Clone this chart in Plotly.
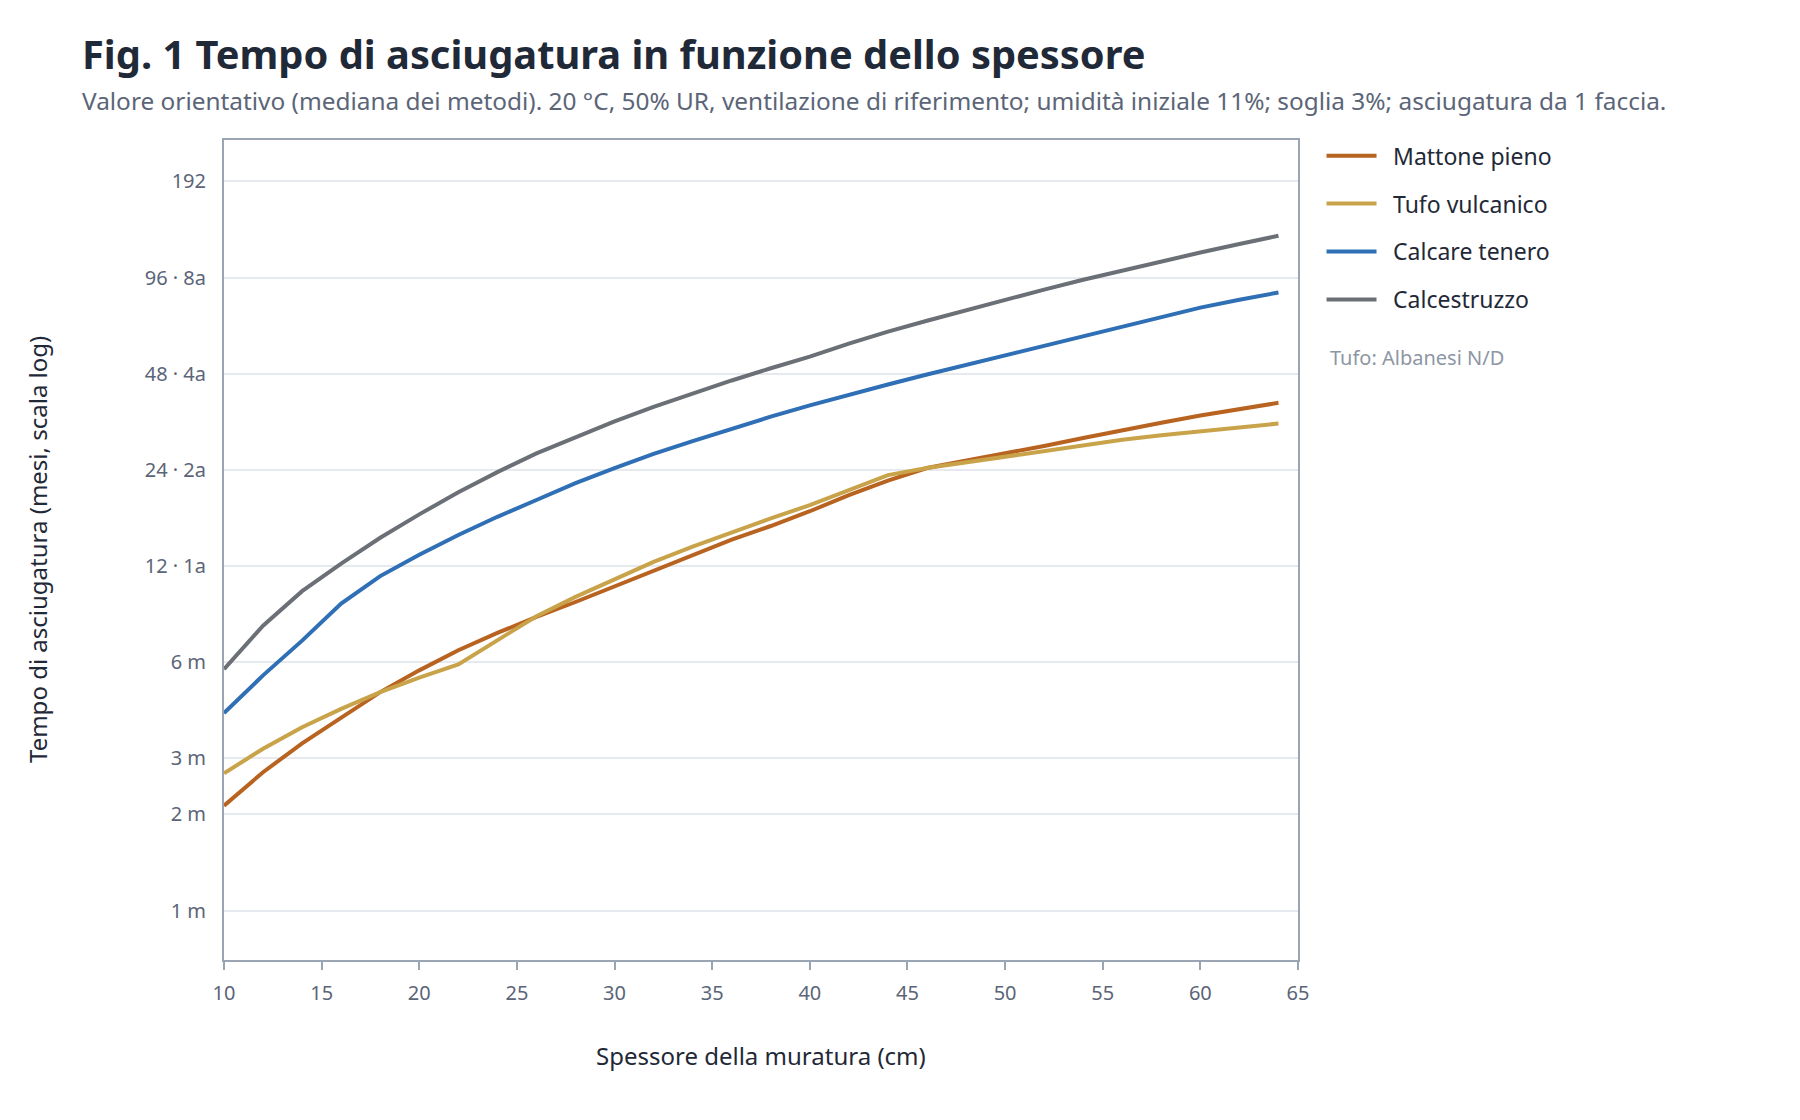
import plotly.graph_objects as go

thickness_cm = [10, 12, 14, 16, 18, 20, 22, 24, 26, 28, 30, 32, 34, 36, 38,
                40, 42, 44, 46, 48, 50, 52, 54, 56, 58, 60, 62, 64]

mattone_pieno = [2.13, 2.71, 3.34, 4.03, 4.83, 5.65, 6.53, 7.40, 8.31, 9.25,
                 10.36, 11.6, 13.0, 14.5, 16.0, 17.8, 20.0, 22.2, 24.3, 25.6,
                 26.9, 28.5, 30.2, 32.0, 33.7, 35.5, 37.2, 38.9]

tufo_vulcanico = [2.69, 3.21, 3.75, 4.28, 4.83, 5.36, 5.90, 7.02, 8.35, 9.6,
                  10.9, 12.35, 13.8, 15.3, 16.9, 18.6, 20.7, 23.1, 24.3, 25.3,
                  26.4, 27.5, 28.7, 29.8, 30.8, 31.7, 32.6, 33.5]

calcare_tenero = [4.15, 5.45, 7.0, 9.15, 11.15, 13.0, 15.0, 17.1, 19.3, 21.8,
                  24.3, 26.9, 29.5, 32.3, 35.2, 38.2, 41.3, 44.4, 47.7, 51.1,
                  54.8, 58.8, 63.2, 67.8, 72.4, 77.3, 81.8, 86.2]

calcestruzzo = [5.7, 7.8, 10.0, 12.2, 14.7, 17.4, 20.4, 23.6, 27.0, 30.4,
                34.0, 37.8, 41.6, 45.7, 49.9, 54.3, 59.6, 65.0, 70.3, 75.9,
                81.9, 88.0, 94.5, 101.0, 107.8, 115.0, 122.3, 129.7]

series_names = ["Mattone pieno", "Tufo vulcanico", "Calcare tenero", "Calcestruzzo"]
series_values = [mattone_pieno, tufo_vulcanico, calcare_tenero, calcestruzzo]
series_colors = ["#b8631f", "#c9a34a", "#2f6fb5", "#6b6f76"]

y_tick_vals = [1, 2, 3, 6, 12, 24, 48, 96, 192]
y_tick_text = ["1 m", "2 m", "3 m", "6 m", "12 · 1a", "24 · 2a", "48 · 4a", "96 · 8a", "192"]
x_tick_vals = [10, 15, 20, 25, 30, 35, 40, 45, 50, 55, 60, 65]

FONT = "Noto Sans"
DARK = "#1f2937"
MUTED = "#5b6577"
AXIS = "#9aa5b4"

fig = go.Figure()
for name, vals, col in zip(series_names, series_values, series_colors):
    fig.add_trace(go.Scatter(
        x=thickness_cm, y=vals, name="\u2002" + name, mode="lines",
        line=dict(color=col, width=4),
        legendgroup=name,
        hovertemplate=name + ": %{y}<extra></extra>",
    ))

fig.update_layout(
    width=1800, height=1120,
    margin=dict(l=224, r=502, t=140, b=160),
    paper_bgcolor="white", plot_bgcolor="white",
    font=dict(family=FONT, color=DARK, size=20),
    showlegend=True,
    legend=dict(x=1.0219, y=1.007, xanchor="left", yanchor="top",
                font=dict(size=23, color=DARK), tracegroupgap=15,
                itemwidth=50, bgcolor="rgba(0,0,0,0)"),
    xaxis=dict(range=[10, 65], tickvals=x_tick_vals, showgrid=False,
               showline=True, linecolor=AXIS, linewidth=2, mirror=True,
               ticks="outside", ticklen=8, tickcolor=AXIS, tickwidth=1.5,
               ticklabelstandoff=6,
               tickfont=dict(size=20, color=MUTED), zeroline=False),
    yaxis=dict(type="log", range=[-0.155, 2.413], tickvals=y_tick_vals,
               ticktext=y_tick_text, showgrid=True, gridcolor="#e6e9ed",
               gridwidth=1.5, showline=True, linecolor=AXIS, linewidth=2,
               mirror=True, ticks="", ticklabelstandoff=12,
               tickfont=dict(size=20, color=MUTED), zeroline=False),
    annotations=[
        dict(text="<b>Fig. 1 Tempo di asciugatura in funzione dello spessore</b>",
             xref="paper", yref="paper", x=-0.1341, y=1.1049,
             xanchor="left", yanchor="middle", showarrow=False,
             font=dict(size=39.8, color=DARK)),
        dict(text="Valore orientativo (mediana dei metodi). 20 °C, 50% UR, ventilazione di riferimento; umidità iniziale 11%; soglia 3%; asciugatura da 1 faccia.",
             xref="paper", yref="paper", x=-0.1341, y=1.0476,
             xanchor="left", yanchor="middle", showarrow=False,
             font=dict(size=24.4, color=MUTED)),
        dict(text="Spessore della muratura (cm)", xref="paper", yref="paper",
             x=0.5, y=-0.1159, xanchor="center", yanchor="middle",
             showarrow=False, font=dict(size=24, color=DARK)),
        dict(text="Tempo di asciugatura (mesi, scala log)", xref="paper",
             yref="paper", x=-0.1741, y=0.5, xanchor="center",
             yanchor="middle", textangle=-90, showarrow=False,
             font=dict(size=24, color=DARK)),
        dict(text="Tufo: Albanesi N/D", xref="paper", yref="paper",
             x=1.028, y=0.735, xanchor="left", yanchor="middle",
             showarrow=False, font=dict(size=20, color="#8d96a3")),
    ],
)

fig.write_html("out.html")
